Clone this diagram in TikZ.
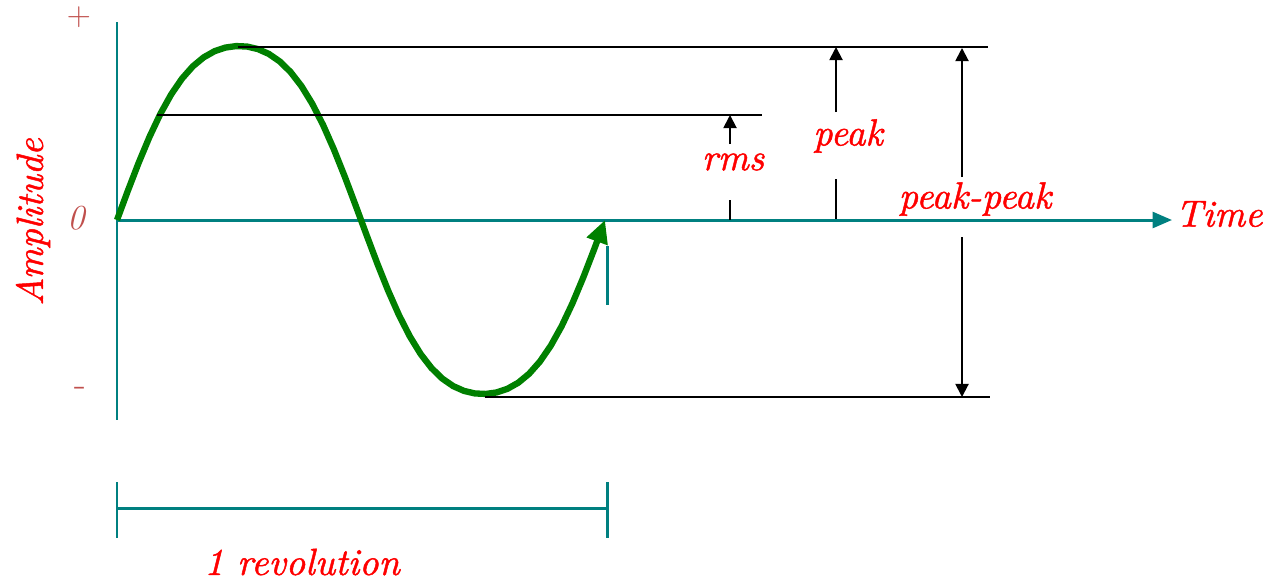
\documentclass[tikz,border=0pt]{standalone}
\usepackage{fontspec}
\newfontfamily\labelfont{lmroman10-italic.otf}[FakeBold=1.2]
\usetikzlibrary{arrows.meta}
\definecolor{axisteal}{RGB}{0,128,128}
\definecolor{wavegreen}{RGB}{0,128,0}
\definecolor{labelred}{RGB}{255,0,0}
\definecolor{tickbrown}{RGB}{192,80,77}
\tikzset{
  axis/.style={line width=1.7pt,axisteal},
  wave/.style={line width=3.6pt,wavegreen,line join=round,
               -{Triangle[length=13pt,width=12pt]}},
  level/.style={line width=1.1pt,black},
  dimarrow/.style={line width=1.1pt,black,-{Triangle[length=7.5pt,width=7.5pt]}},
  biglabel/.style={font=\fontsize{21.5}{26}\labelfont,labelred,inner sep=0pt},
  ticklabel/.style={font=\fontsize{22}{24}\selectfont,tickbrown,inner sep=0pt},
}
\begin{document}
\begin{tikzpicture}[x=0.02cm,y=-0.02cm]
  \useasboundingbox (0,0) rectangle (1266,582);

  % axes
  \coordinate (origin) at (117,220);
  \coordinate (ytop) at (117,22);
  \coordinate (ybot) at (117,420);
  \coordinate (xend) at (1172,220);
  \draw[axis] (ytop) -- (ybot);
  \draw[axis,-{Triangle[length=11pt,width=9pt]}] (origin) -- (xend);

  % axis labels
  \node[ticklabel,font=\fontsize{19}{22}\selectfont] (plus) at (79,17) {+};
  \node[ticklabel,font=\fontsize{20}{22}\selectfont\itshape] (zero) at (76,218) {0};
  \node[ticklabel] (minus) at (80,392) {-};
  \node[biglabel,rotate=90] (amplitude) at (33,222) {Amplitude};
  \node[biglabel] (time) at (1219,214) {Time};

  % one cycle
  \draw[wave] plot[domain=0:360,samples=46]
    ({117+1.3556*\x},{220-174*(sin(\x)+0.05*sin(3*\x))/0.95});

  % levels
  \coordinate (peakL) at (238,47);
  \coordinate (peakR) at (988,47);
  \coordinate (rmsL) at (157,115);
  \coordinate (rmsR) at (762,115);
  \coordinate (troughL) at (485,397);
  \coordinate (troughR) at (990,397);
  \draw[level] (peakL) -- (peakR);
  \draw[level] (rmsL) -- (rmsR);
  \draw[level] (troughL) -- (troughR);

  % rms
  \coordinate (rmsA) at (730,144);
  \coordinate (rmsB) at (730,115);
  \coordinate (rmsC) at (730,200);
  \coordinate (rmsD) at (730,220);
  \draw[dimarrow] (rmsA) -- (rmsB);
  \draw[level] (rmsC) -- (rmsD);
  \node[biglabel] (rms) at (733,162) {rms};

  % peak
  \coordinate (pkA) at (836,112);
  \coordinate (pkB) at (836,47);
  \coordinate (pkC) at (836,179);
  \coordinate (pkD) at (836,219);
  \draw[dimarrow] (pkA) -- (pkB);
  \draw[level] (pkC) -- (pkD);
  \node[biglabel] (peak) at (848,136) {peak};

  % peak-peak
  \coordinate (ppA) at (962,177);
  \coordinate (ppB) at (962,48);
  \coordinate (ppC) at (962,237);
  \coordinate (ppD) at (962,397);
  \draw[dimarrow] (ppA) -- (ppB);
  \draw[dimarrow] (ppC) -- (ppD);
  \node[biglabel] (peakpeak) at (975,199) {peak-peak};

  % end tick
  \coordinate (endA) at (607,246);
  \coordinate (endB) at (607,305);
  \draw[axis] (endA) -- (endB);

  % revolution bracket
  \coordinate (revL) at (117,508);
  \coordinate (revR) at (607,508);
  \draw[axis] (117,482) -- (117,538);
  \draw[axis] (607,482) -- (607,538);
  \draw[axis] (revL) -- (revR);
  \node[biglabel] (revolution) at (302,562) {1 revolution};

\end{tikzpicture}
\end{document}
